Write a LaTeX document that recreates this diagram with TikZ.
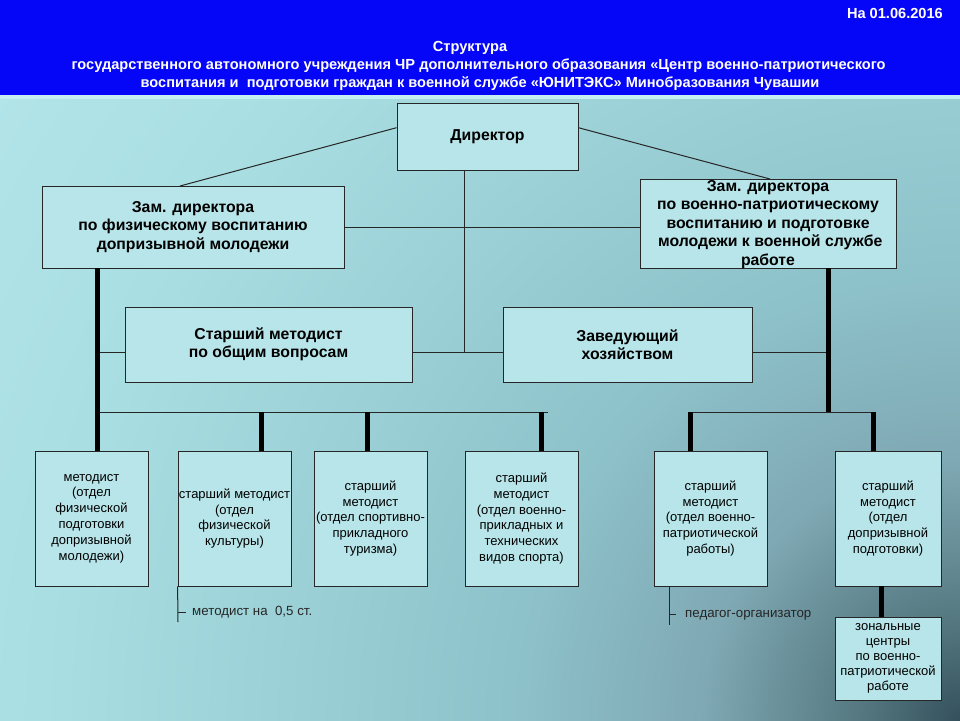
\documentclass[tikz,border=0pt]{standalone}
\usepackage{fontspec}
\setmainfont{Liberation Sans}
\usetikzlibrary{calc}
\definecolor{hdrblue}{HTML}{0505F8}
\definecolor{boxfill}{HTML}{B8E5E9}
\definecolor{strip}{HTML}{C4EEF2}
\definecolor{bg0}{HTML}{34505C}
\definecolor{bg1}{HTML}{557880}
\definecolor{bg2}{HTML}{7FA9B4}
\definecolor{bg3}{HTML}{8EC2CA}
\definecolor{bg4}{HTML}{A8DEE2}
\definecolor{bg5}{HTML}{B2E4E8}
\pgfdeclareradialshading{bgshade}{\pgfpoint{0bp}{0bp}}{color(0bp)=(bg0); color(2.15bp)=(bg1); color(5.65bp)=(bg2); color(9.8bp)=(bg3); color(19.5bp)=(bg4); color(25bp)=(bg5); color(50bp)=(bg5)}
\tikzset{
  box/.style={draw=black!85, line width=0.8pt, fill=boxfill, inner sep=0pt, align=center, text=black},
  topfont/.style={font=\bfseries\fontsize{15.8}{18.5}\selectfont},
  topbox/.style={box, topfont},
  toptext/.style={topfont, align=center, inner sep=0pt, text=black},
  lowbox/.style={box, minimum width=113pt, minimum height=135pt, font=\fontsize{13}{15.8}\selectfont},
  thinln/.style={line width=1pt, draw=black!85},
  boldln/.style={line width=5pt, draw=black},
  note/.style={font=\fontsize{13.3}{15}\selectfont, text=black!85, anchor=west, inner sep=0pt},
  hdr/.style={text=white, font=\bfseries\fontsize{14.6}{18}\selectfont, inner sep=0pt}
}
\begin{document}
\begin{tikzpicture}[x=1pt,y=-1pt]
\useasboundingbox (0,0) rectangle (960,720);
% background
\begin{scope}
\clip (0,95) rectangle (960,720);
\shade[shading=bgshade] (960,720) circle (1150);
\end{scope}
\fill[hdrblue] (0,0) rectangle (960,95);
\fill[strip] (0,95) rectangle (960,99);
% header
\node[hdr, anchor=east] (date) at (943,13) {На 01.06.2016};
\node[hdr] (title1) at (470,48) {Структура};
\node[hdr] (title2) at (478.5,66) {государственного автономного учреждения ЧР дополнительного образования «Центр военно-патриотического};
\node[hdr] (title3) at (480,84) {воспитания и\ \ подготовки граждан к военной службе «ЮНИТЭКС» Минобразования Чувашии};
% top boxes
\node[topbox, minimum width=181pt, minimum height=67pt] (dir) at (487.5,136.5) {Директор};
\node[topbox, minimum width=302pt, minimum height=82pt] (zamL) at (193,227) {Зам. директора\\по физическому воспитанию\\допризывной молодежи};
\node[box, minimum width=256pt, minimum height=89pt] (zamR) at (768,223.5) {};
\node[toptext] (zamRtext) at (768,224.5) {Зам. директора\\по военно-патриотическому\\воспитанию и подготовке\\\ молодежи к военной службе\\работе};
\node[topbox, minimum width=287pt, minimum height=75pt] (midL) at (268.5,344.5) {Старший методист\\по общим вопросам};
\node[topbox, minimum width=249pt, minimum height=75pt] (midR) at (627.5,344.5) {Заведующий\\хозяйством};
% bottom boxes
\node[lowbox] (b1) at (91.5,518.5) {методист\\(отдел\\физической\\подготовки\\допризывной\\молодежи)};
\node[lowbox] (b2) at (234.5,518.5) {старший методист\\(отдел\\физической\\культуры)};
\node[lowbox] (b3) at (370.5,518.5) {старший\\методист\\(отдел спортивно-\\прикладного\\туризма)};
\node[lowbox] (b4) at (521.5,518.5) {старший\\методист\\(отдел военно-\\прикладных и\\технических\\видов спорта)};
\node[lowbox] (b5) at (710.5,518.5) {старший\\методист\\(отдел военно-\\патриотической\\работы)};
\node[lowbox, minimum width=106pt] (b6) at (888,518.5) {старший\\методист\\(отдел\\допризывной\\подготовки)};
\node[lowbox, minimum width=106pt, minimum height=83pt, font=\fontsize{13}{15}\selectfont] (zon) at (888,658.5) {зональные\\центры\\по военно-\\патриотической\\работе};
% coordinates
\coordinate (dirL) at ($(dir.north west)!0.37!(dir.south west)$);
\coordinate (dirR) at ($(dir.north east)!0.37!(dir.south east)$);
\coordinate (dirB) at ($(dir.south west)!0.376!(dir.south east)$);
\coordinate (zLt) at (180,186);
\coordinate (zRt) at (770,179);
\coordinate (hub) at (465,352);
\coordinate (lx) at (97,412);
\coordinate (lxe) at (548,412);
\coordinate (s2) at (261,412);
\coordinate (s3) at (367,412);
\coordinate (s4) at (541,412);
\coordinate (rx) at (828,412);
\coordinate (r5) at (690,412);
\coordinate (r6) at (873,412);
\coordinate (zx) at (881,600);
\coordinate (n1) at (178,622);
\coordinate (t1) at (178,612);
\coordinate (n2) at (669,625);
\coordinate (t2) at (669,614);
% thin connectors
\draw[thinln] (dirL) -- (zLt);
\draw[thinln] (dirR) -- (zRt);
\draw[thinln] (dirB) -- (dirB |- hub);
\draw[thinln] (zamL.east |- 0,227) -- (zamR.west |- 0,227);
\draw[thinln] (midL.east |- hub) -- (midR.west |- hub);
\draw[thinln] (midL.west |- hub) -- (hub -| lx);
\draw[thinln] (midR.east |- hub) -- (hub -| rx);
\draw[thinln] (lx) -- (lxe);
\draw[thinln] (r5) -- (r6);
% bold connectors
\draw[boldln] (zamL.south -| lx) -- (b1.north -| lx);
\draw[boldln] (zamR.south -| rx) -- (rx);
\draw[boldln] (s2) -- (b2.north -| s2);
\draw[boldln] (s3) -- (b3.north -| s3);
\draw[boldln] (s4) -- (b4.north -| s4);
\draw[boldln] (r5) -- (b5.north -| r5);
\draw[boldln] (r6) -- (b6.north -| r6);
\draw[boldln] (b6.south -| zx) -- (zon.north -| zx);
% notes
\draw[thinln] (b2.south west) -- (n1);
\draw[thinln] (t1) -- ++(8,0);
\node[note] (note1) at (192,612) {методист на\ \ 0,5 ст.};
\draw[thinln] (b5.south -| n2) -- (n2);
\draw[thinln] (t2) -- ++(7,0);
\node[note] (note2) at (685,615) {педагог-организатор};
\end{tikzpicture}
\end{document}
